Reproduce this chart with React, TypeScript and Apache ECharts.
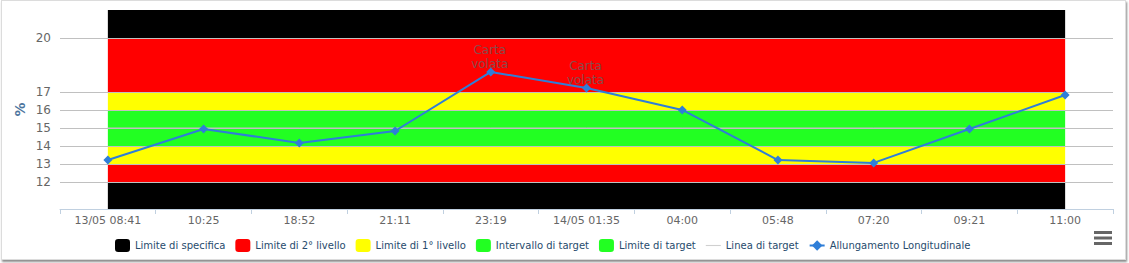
import React, { useEffect, useRef } from "react";
import * as echarts from "echarts";

const categories = [
  "13/05 08:41", "10:25", "18:52", "21:11", "23:19", "14/05 01:35",
  "04:00", "05:48", "07:20", "09:21", "11:00",
];
const allungamento = [13.22, 14.94, 14.17, 14.83, 18.11, 17.22, 16.0, 13.22, 13.06, 14.94, 16.83];
const pointLabels = ["", "", "", "", "Carta\nvolata", "Carta\nvolata", "", "", "", "", ""];
const yTicks = [12, 13, 14, 15, 16, 17, 20];
const yMin = 10.5;
const yMax = 21.55;
const targetLine = [15, 15, 15, 15, 15, 15, 15, 15, 15, 15, 15];
// bands: [from, to]
const specificaBands = [[yMin, 12], [20, yMax]];
const livello2Bands = [[12, 13], [17, 20]];
const livello1Bands = [[13, 14], [16, 17]];
const intervalloBands = [[14, 16]];

const seriesNames = [
  "Limite di specifica",
  "Limite di 2° livello",
  "Limite di 1° livello",
  "Intervallo di target",
  "Limite di target",
  "Linea di target",
  "Allungamento Longitudinale",
];
const bandColors = ["#000000", "#ff0000", "#ffff00", "#22ff22", "#22ff22"];

export default function App() {
  const ref = useRef<HTMLDivElement>(null);
  useEffect(() => {
    if (!ref.current) return;
    const chart = echarts.init(ref.current, null, { renderer: "svg" });
    const first = categories[0];
    const last = categories[categories.length - 1];
    const bandSeries = (name: string, color: string, bands: number[][]) => ({
      name,
      type: "line",
      data: [],
      color,
      symbol: "none",
      z: 2,
      markArea: {
        silent: true,
        itemStyle: { color, opacity: 1 },
        data: bands.map(([a, b]) => [
          { xAxis: first, yAxis: a },
          { xAxis: last, yAxis: b },
        ]),
      },
    });
    const option: any = {
      animation: false,
      backgroundColor: "transparent",
      textStyle: { fontFamily: "DejaVu Sans" },
      grid: { left: 60, right: 16, top: 10, bottom: 54, containLabel: false },
      xAxis: {
        type: "category",
        data: categories,
        boundaryGap: true,
        axisLine: { lineStyle: { color: "#C0D0E0" } },
        axisTick: { show: true, length: 5, lineStyle: { color: "#C0D0E0" } },
        axisLabel: { color: "#666", fontSize: 11, margin: 6, interval: 0 },
        splitLine: { show: false },
      },
      yAxis: {
        type: "value",
        min: yMin,
        max: yMax,
        z: 3,
        name: "%",
        nameLocation: "middle",
        nameGap: 33,
        nameMoveOverlap: false,
        nameTextStyle: { color: "#4d759e", fontWeight: "bold", fontSize: 14 },
        axisLine: { show: false },
        axisTick: { show: false, customValues: yTicks },
        axisLabel: { color: "#666", fontSize: 12, margin: 9, customValues: yTicks },
        splitLine: { show: true, lineStyle: { color: "#C0C0C0", width: 1 } },
      },
      legend: {
        left: 115,
        top: 239,
        padding: 0,
        itemWidth: 15,
        itemHeight: 13,
        itemGap: 10,
        textStyle: { color: "#274b6d", fontSize: 10, fontFamily: "DejaVu Sans" },
        data: [
          { name: seriesNames[0], icon: "roundRect" },
          { name: seriesNames[1], icon: "roundRect" },
          { name: seriesNames[2], icon: "roundRect" },
          { name: seriesNames[3], icon: "roundRect" },
          { name: seriesNames[4], icon: "roundRect" },
          {
            name: seriesNames[5],
            icon: "path://M0,0 L16,0 L16,1.2 L0,1.2 Z",
            itemStyle: { color: "#d0d0d0", borderWidth: 0 },
          },
          { name: seriesNames[6] },
        ],
      },
      series: [
        bandSeries(seriesNames[0], bandColors[0], specificaBands),
        bandSeries(seriesNames[1], bandColors[1], livello2Bands),
        bandSeries(seriesNames[2], bandColors[2], livello1Bands),
        bandSeries(seriesNames[3], bandColors[3], intervalloBands),
        { name: seriesNames[4], type: "line", data: [], color: bandColors[4], symbol: "none" },
        {
          name: seriesNames[5],
          type: "line",
          color: "#d8d8d8",
          symbol: "none",
          showSymbol: false,
          z: 2.5,
          lineStyle: { width: 1, color: "#bcbcbc" },
          data: targetLine,
        },
        {
          name: seriesNames[6],
          type: "line",
          color: "#2f7ed8",
          z: 5,
          symbol: "diamond",
          symbolSize: 9,
          lineStyle: { width: 2, color: "#2f7ed8" },
          itemStyle: { color: "#2f7ed8" },
          data: allungamento.map((v, i) => ({
            value: v,
            label: pointLabels[i]
              ? {
                  show: true,
                  position: "top",
                  distance: 3,
                  offset: [-1, 7],
                  formatter: pointLabels[i],
                  color: "#8a4a4a",
                  fontSize: 12,
                  lineHeight: 14,
                  fontFamily: "DejaVu Sans",
                }
              : { show: false },
          })),
        },
      ],
      graphic: [
        { type: "rect", shape: { x: 1094, y: 231, width: 18, height: 3 }, style: { fill: "#666" } },
        { type: "rect", shape: { x: 1094, y: 236.5, width: 18, height: 3 }, style: { fill: "#666" } },
        { type: "rect", shape: { x: 1094, y: 242, width: 18, height: 3 }, style: { fill: "#666" } },
      ],
    };
    chart.setOption(option);
    return () => chart.dispose();
  }, []);
  return (
    <>
      <div
        style={{
          position: "absolute",
          left: 1,
          top: 0,
          width: 1125,
          height: 260,
          boxSizing: "border-box",
          border: "1px solid #dcdcdc",
          boxShadow: "1px 2px 2px rgba(0,0,0,0.45)",
          background: "#fff",
        }}
      />
      <div
        ref={ref}
        style={{ position: "absolute", left: 0, top: 0, width: 1129, height: 263 }}
      />
    </>
  );
}
